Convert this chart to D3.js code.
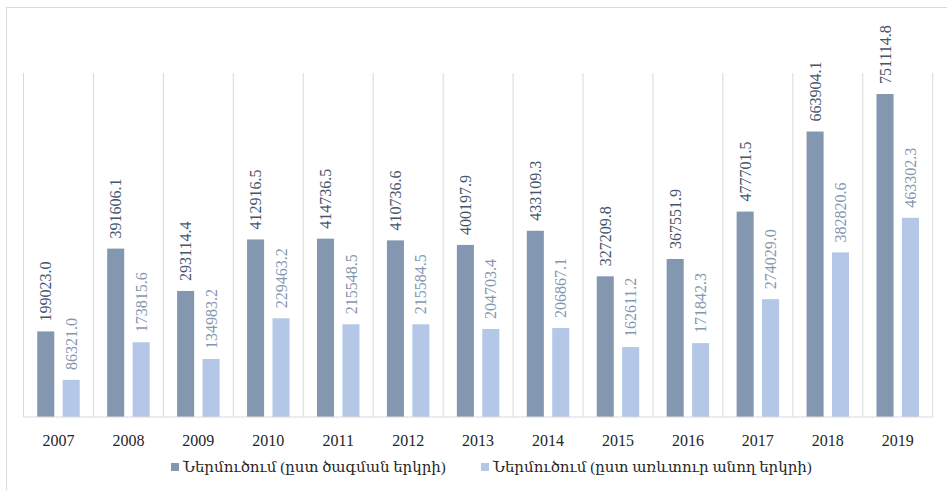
<!DOCTYPE html>
<html>
<head>
<meta charset="utf-8">
<script src="https://cdn.jsdelivr.net/npm/d3@7"></script>
<style>
  html, body { margin: 0; padding: 0; background: #fff; }
  svg { display: block; font-family: "Liberation Serif", "DejaVu Serif", serif; }
</style>
</head>
<body>
<div id="chart"></div>
<script>
// Import volumes, 2007–2019
const YEARS = ["2007", "2008", "2009", "2010", "2011", "2012", "2013",
               "2014", "2015", "2016", "2017", "2018", "2019"];

const BY_ORIGIN = [199023.0, 391606.1, 293114.4, 412916.5, 414736.5, 410736.6,
                   400197.9, 433109.3, 327209.8, 367551.9, 477701.5, 663904.1, 751114.8];

const BY_TRADER = [86321.0, 173815.6, 134983.2, 229463.2, 215548.5, 215584.5,
                   204703.4, 206867.1, 162611.2, 171842.3, 274029.0, 382820.6, 463302.3];

const SERIES_NAMES = ["Ներմուծում (ըստ ծագման երկրի)", "Ներմուծում (ըստ առևտուր անող երկրի)"];

const BAR_COLORS = ["#8497b0", "#b4c7e7"];
const LABEL_COLORS = ["#44546a", "#8497b0"];

const W = 947, H = 490;
const plot = { left: 23.5, right: 932.7, top: 73, bottom: 417 };

const svg = d3.select("#chart").append("svg")
  .attr("width", W)
  .attr("height", H);

// chart frame (only top and left edges visible in the crop)
svg.append("rect")
  .attr("x", 6.5).attr("y", 7.5)
  .attr("width", 960).attr("height", 500)
  .attr("fill", "none")
  .attr("stroke", "#d9d9d9");

const x = d3.scaleBand()
  .domain(YEARS)
  .range([plot.left, plot.right]);

const x1 = d3.scaleBand()
  .domain([0, 1])
  .range([0, x.bandwidth()])
  .paddingInner(0.33)
  .paddingOuter(0.54);

const y = d3.scaleLinear()
  .domain([0, 800000])
  .range([plot.bottom, plot.top]);

// vertical gridlines at category boundaries
const bounds = YEARS.map(d => x(d)).concat([plot.right]);
svg.append("g")
  .selectAll("line")
  .data(bounds)
  .join("line")
  .attr("x1", d => d).attr("x2", d => d)
  .attr("y1", plot.top).attr("y2", plot.bottom)
  .attr("stroke", "#d9d9d9")
  .attr("stroke-width", 1);

const rows = YEARS.map((yr, i) => ({ yr, vals: [BY_ORIGIN[i], BY_TRADER[i]] }));

const groups = svg.append("g")
  .selectAll("g")
  .data(rows)
  .join("g")
  .attr("transform", d => `translate(${x(d.yr)},0)`);

groups.selectAll("rect")
  .data(d => d.vals.map((v, s) => ({ v, s })))
  .join("rect")
  .attr("x", d => x1(d.s))
  .attr("width", x1.bandwidth())
  .attr("y", d => y(d.v))
  .attr("height", d => y(0) - y(d.v))
  .attr("fill", d => BAR_COLORS[d.s]);

// rotated value labels
groups.selectAll("text")
  .data(d => d.vals.map((v, s) => ({ v, s })))
  .join("text")
  .attr("transform", d => `translate(${x1(d.s) + x1.bandwidth() / 2},${y(d.v) - 10}) rotate(-90)`)
  .attr("dy", "0.35em")
  .attr("font-size", 16)
  .attr("fill", d => LABEL_COLORS[d.s])
  .text(d => d.v.toFixed(1));

// baseline
svg.append("line")
  .attr("x1", plot.left).attr("x2", plot.right)
  .attr("y1", plot.bottom).attr("y2", plot.bottom)
  .attr("stroke", "#d9d9d9")
  .attr("stroke-width", 1.2);

// year labels
svg.append("g")
  .selectAll("text")
  .data(YEARS)
  .join("text")
  .attr("x", d => x(d) + x.bandwidth() / 2)
  .attr("y", 446)
  .attr("text-anchor", "middle")
  .attr("font-size", 16)
  .attr("fill", "#262626")
  .text(d => d);

// legend
const legendX = [171, 481];
const legend = svg.append("g")
  .selectAll("g")
  .data(SERIES_NAMES)
  .join("g")
  .attr("transform", (d, i) => `translate(${legendX[i]},467)`);

legend.append("rect")
  .attr("x", 0).attr("y", -4)
  .attr("width", 8).attr("height", 8)
  .attr("fill", (d, i) => BAR_COLORS[i]);

legend.append("text")
  .attr("x", 12)
  .attr("dy", "0.35em")
  .attr("font-size", 15)
  .attr("fill", "#262626")
  .text(d => d);
</script>
</body>
</html>
